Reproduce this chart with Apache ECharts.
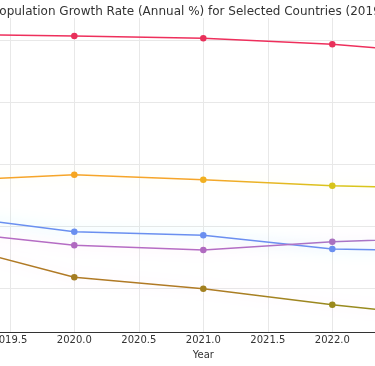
<!DOCTYPE html>
<html>
<head>
<meta charset="utf-8">
<script src="https://cdn.jsdelivr.net/npm/echarts@6/dist/echarts.min.js"></script>
<style>html,body{margin:0;padding:0;background:#fff;}#c{width:375px;height:366px;}</style>
</head>
<body>
<div id="c"></div>
<script>
const years = [2019, 2020, 2021, 2022, 2023];
const seriesNames = ['Country A', 'Country B', 'Country C', 'Country D', 'Country E'];
const valuesA = [2.552, 2.538, 2.519, 2.471, 2.388];
const valuesB = [1.367, 1.418, 1.377, 1.329, 1.305];
const valuesC = [1.090, 0.957, 0.928, 0.817, 0.800];
const valuesD = [0.960, 0.847, 0.809, 0.876, 0.910];
const valuesE = [0.864, 0.589, 0.497, 0.368, 0.255];
const yGridValues = [0.5, 1.0, 1.5, 2.0, 2.5];
const titleText = 'Population Growth Rate (Annual %) for Selected Countries (2019\u20132023)';

const allValues = [valuesA, valuesB, valuesC, valuesD, valuesE];
const lineColors = [
  ['#ee2f5c', '#ee2f5c'],
  ['#f6a52a', '#d9c51c'],
  ['#6a8ff0', '#6a8ff0'],
  ['#b56cc4', '#a974c6'],
  ['#b07a25', '#988a1e']
];
const markerColors = [
  ['#e8305a', '#e8305a', '#e8305a', '#e8305a', '#e8305a'],
  ['#f5a623', '#f6a623', '#f1b020', '#d7c41a', '#d0c41a'],
  ['#6a8ff0', '#6a8ff0', '#6a8ff0', '#6a8ff0', '#6a8ff0'],
  ['#b06ac0', '#b06ac0', '#b06ac0', '#aa70c0', '#aa70c0'],
  ['#a87a22', '#a47d22', '#a28020', '#9a8a1c', '#988a1c']
];
const glowColors = ['rgba(255,0,80,0.0)', 'rgba(255,230,0,0.18)', 'rgba(0,230,255,0.35)', 'rgba(255,80,220,0.22)', 'rgba(255,80,200,0.16)'];

const chart = echarts.init(document.getElementById('c'), null, {renderer: 'canvas'});
const series = allValues.map((vals, i) => ({
  name: seriesNames[i],
  type: 'line',
  data: vals.map((v, j) => [years[j], v]),
  symbol: 'circle',
  symbolSize: 6.5,
  showSymbol: true,
  clip: true,
  z: 5,
  lineStyle: {
    width: 1.5,
    color: new echarts.graphic.LinearGradient(0, 0, 1, 0, [
      {offset: 0, color: lineColors[i][0]},
      {offset: 0.5, color: lineColors[i][0]},
      {offset: 0.75, color: lineColors[i][1]},
      {offset: 1, color: lineColors[i][1]}
    ]),
    shadowColor: glowColors[i],
    shadowBlur: 14
  },
  itemStyle: {
    color: (p) => markerColors[i][p.dataIndex],
    borderWidth: 0
  },
  emphasis: {disabled: true},
  animation: false
}));
series.push({
  type: 'line',
  data: [],
  silent: true,
  markLine: {
    silent: true,
    symbol: 'none',
    label: {show: false},
    lineStyle: {color: '#e8e8e8', width: 1, type: 'solid'},
    data: yGridValues.map(v => ({yAxis: v}))
  },
  z: 1,
  animation: false
});

chart.setOption({
  animation: false,
  backgroundColor: '#ffffff',
  title: {
    text: titleText,
    left: -7.5,
    top: 6,
    padding: 0,
    textStyle: {fontFamily: 'DejaVu Sans', fontSize: 12, fontWeight: 'normal', color: '#333333'}
  },
  grid: {left: -54.7, right: -86.3, top: 18, bottom: 34, outerBoundsMode: 'none', containLabel: false},
  xAxis: {
    type: 'value',
    min: 2019,
    max: 2023,
    interval: 0.5,
    name: 'Year',
    nameLocation: 'middle',
    nameGap: 18,
    nameTextStyle: {fontFamily: 'DejaVu Sans', fontSize: 10, color: '#333333'},
    axisLine: {show: true, lineStyle: {color: '#333333', width: 1}},
    axisTick: {show: false},
    axisLabel: {
      fontFamily: 'DejaVu Sans', fontSize: 10, color: '#333333', margin: 3,
      formatter: (v) => v.toFixed(1)
    },
    splitLine: {show: true, lineStyle: {color: '#e8e8e8', width: 1}}
  },
  yAxis: {
    type: 'value',
    min: 0.147,
    max: 2.683,
    axisLine: {show: false},
    axisTick: {show: false},
    axisLabel: {show: false},
    splitLine: {show: false}
  },
  series: series
});
</script>
</body>
</html>
